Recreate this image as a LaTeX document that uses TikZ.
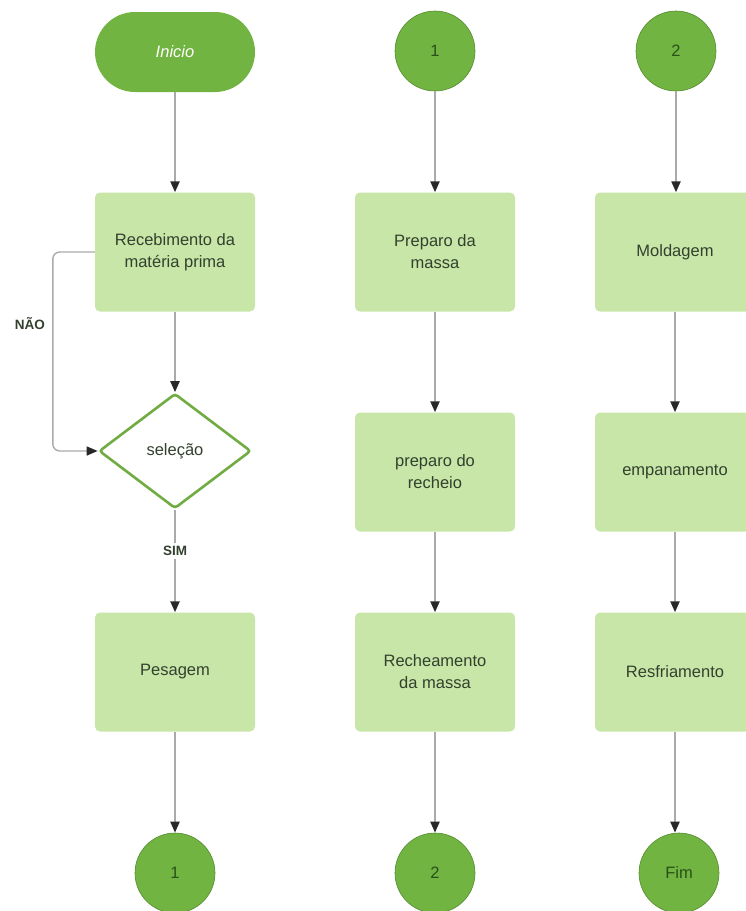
\documentclass[tikz,border=0pt]{standalone}
\usepackage{fontspec}
\setmainfont{Liberation Sans}
\usetikzlibrary{shapes.geometric,arrows.meta}
\definecolor{circfill}{RGB}{114,180,66}
\definecolor{circdraw}{RGB}{84,140,48}
\definecolor{boxfill}{RGB}{199,230,168}
\definecolor{diamdraw}{RGB}{112,172,66}
\definecolor{boxtext}{RGB}{52,64,46}
\definecolor{circtext}{RGB}{40,80,25}
\definecolor{linegray}{RGB}{170,170,170}
\definecolor{tipgray}{RGB}{40,40,40}
\begin{document}
\begin{tikzpicture}[x=1pt,y=-1pt,
  every node/.style={font=\fontsize{16.5}{22}\selectfont},
  procbox/.style={rectangle, rounded corners=5pt, fill=boxfill, minimum width=160pt, minimum height=119pt, inner sep=0pt, align=center, text=boxtext},
  conn/.style={circle, fill=circfill, draw=circdraw, line width=0.6pt, minimum size=80pt, inner sep=0pt, text=circtext},
  term/.style={rectangle, rounded corners=40pt, fill=circfill, minimum width=160pt, minimum height=80pt, inner sep=0pt, text=white, font=\fontsize{16.5}{22}\selectfont\itshape},
  decis/.style={diamond, draw=diamdraw, line width=2.6pt, rounded corners=3pt, fill=white, minimum width=152pt, minimum height=115pt, inner sep=0pt, text=boxtext},
  flow/.style={draw=linegray, line width=2.2pt, -{Triangle[length=11pt,width=9pt,color=tipgray]}},
  thinflow/.style={draw=linegray, line width=1.4pt, rounded corners=7pt, -{Triangle[length=11pt,width=9pt,color=tipgray]}},
  lbl/.style={font=\fontsize{13.5}{16}\selectfont\bfseries, text=boxtext}]
\useasboundingbox (0,0) rectangle (746,911);
\begin{scope}
\clip (0,0) rectangle (746,911);
% column 1
\node[term] (ini) at (175,52) {Inicio};
\node[procbox] (rec) at (175,252) {Recebimento da\\matéria prima};
\node[decis] (sel) at (175,451) {seleção};
\node[procbox] (pes) at (175,672) {Pesagem};
\node[conn] (c1b) at (175,873) {1};
% column 2
\node[conn] (c1t) at (435,51) {1};
\node[procbox] (pm) at (435,252) {Preparo da\\massa};
\node[procbox] (pr) at (435,472) {preparo do\\recheio};
\node[procbox] (rm) at (435,672) {Recheamento\\da massa};
\node[conn] (c2b) at (435,873) {2};
% column 3
\node[conn] (c2t) at (676,51) {2};
\node[procbox] (mol) at (675,252) {Moldagem};
\node[procbox] (emp) at (675,472) {empanamento};
\node[procbox] (res) at (675,672) {Resfriamento};
\node[conn] (fim) at (679,873) {Fim};
\end{scope}
% connectors
\draw[flow] (ini) -- (rec);
\draw[flow] (rec) -- (sel);
\draw[flow] (sel) -- node[lbl, fill=white, inner sep=3pt, pos=0.4] (sim) {SIM} (pes);
\draw[flow] (pes) -- (c1b);
\draw[thinflow] (rec.west) -- ++(-42,0) |- (sel.west);
\node[lbl] (nao) at (30,324) {NÃO};
\draw[flow] (c1t) -- (pm);
\draw[flow] (pm) -- (pr);
\draw[flow] (pr) -- (rm);
\draw[flow] (rm) -- (c2b);
\draw[flow] (c2t.south) -- (c2t.south |- mol.north);
\draw[flow] (mol) -- (emp);
\draw[flow] (emp) -- (res);
\draw[flow] (res.south) -- (res.south |- fim.north);
\end{tikzpicture}
\end{document}
